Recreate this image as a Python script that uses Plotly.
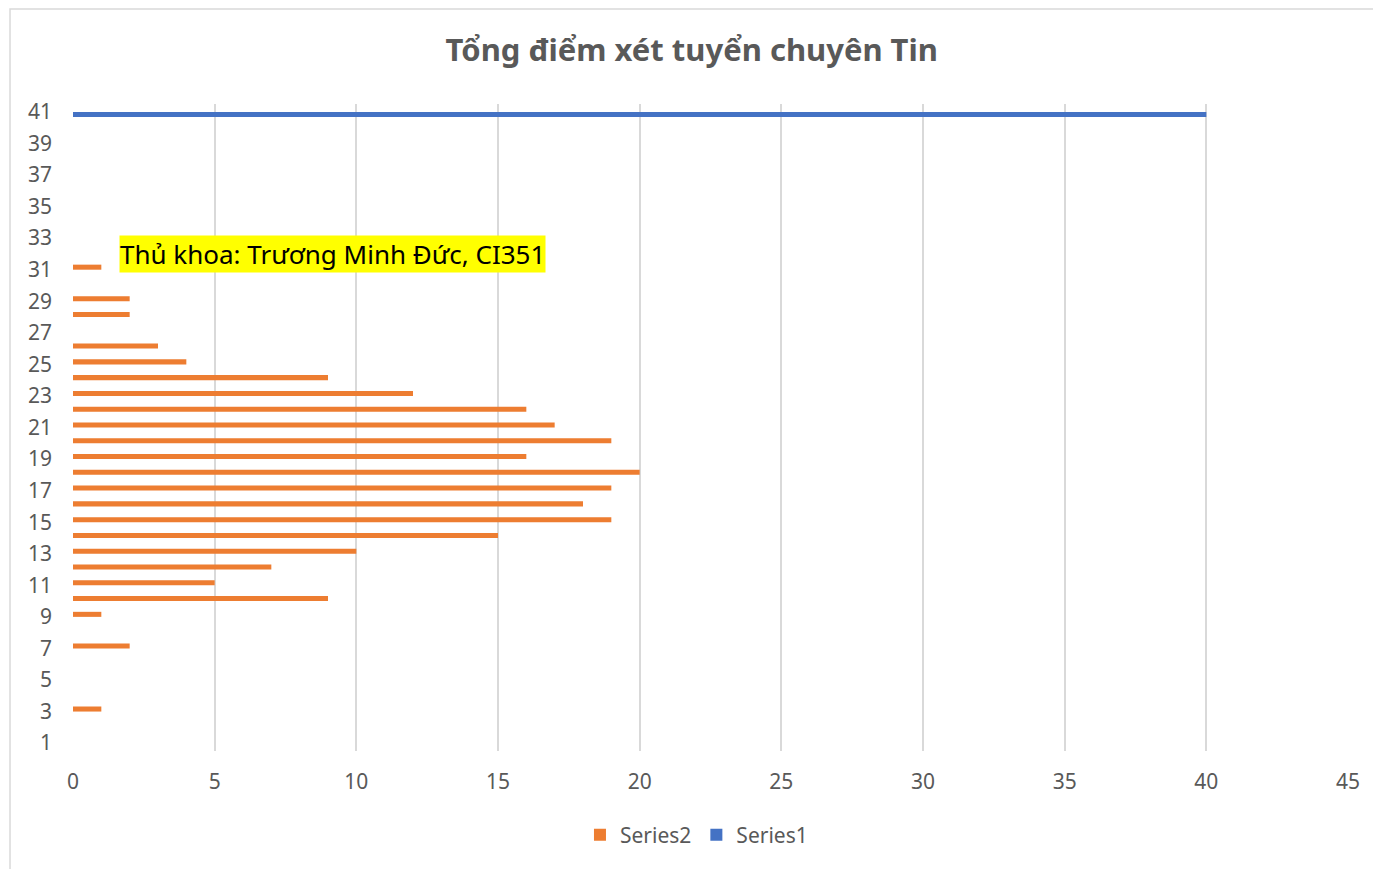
import plotly.graph_objects as go

# Categories (điểm) 1..41
categories = list(range(1, 42))

# Series2: số thí sinh theo tổng điểm
series2 = [0, 0, 1, 0, 0, 0, 2, 0, 1, 9,
           5, 7, 10, 15, 19, 18, 19, 20, 16, 19,
           17, 16, 12, 9, 4, 3, 0, 2, 2, 0,
           1, 0, 0, 0, 0, 0, 0, 0, 0, 0,
           0]

# Series1: chỉ có giá trị ở mốc 41
series1 = [0] * 40 + [40]

x_ticks = [0, 5, 10, 15, 20, 25, 30, 35, 40, 45]

title_text = "Tổng điểm xét tuyển chuyên Tin"
note_text = "Thủ khoa: Trương Minh Đức, CI351"

grey = "#595959"
font_main = "Noto Sans, Open Sans, sans-serif"

fig = go.Figure()
fig.add_trace(go.Bar(y=categories, x=series1, orientation="h", name="Series1",
                     marker=dict(color="#4472C4", line=dict(width=0))))
fig.add_trace(go.Bar(y=categories, x=series2, orientation="h", name="Series2",
                     marker=dict(color="#ED7D31", line=dict(width=0))))

# page body adds an 8px offset, so the figure is sized/margined for that
fig.update_layout(
    width=1373, height=861,
    margin=dict(l=65, r=33, t=96, b=118),
    paper_bgcolor="white", plot_bgcolor="white",
    barmode="group", bargap=0.36, bargroupgap=0,
    font=dict(family=font_main, color=grey, size=21),
    title=dict(text="<b>" + title_text + "</b>", x=0.498, xanchor="center",
               xref="container", y=0.951, yref="container", yanchor="middle",
               font=dict(size=31, color=grey, family=font_main)),
    xaxis=dict(range=[0, 45], tickvals=x_ticks, showgrid=True,
               gridcolor="#d9d9d9", gridwidth=1.5, zeroline=False,
               showline=False, ticks="", tickfont=dict(size=21, color=grey),
               ticklabelstandoff=16),
    yaxis=dict(range=[0.5, 41.5], tick0=1, dtick=2, showgrid=False,
               zeroline=False, showline=False, ticks="",
               tickfont=dict(size=21, color=grey), ticklabelstandoff=20),
    legend=dict(orientation="h", x=0.489, xanchor="center", y=-0.13,
                yanchor="middle", traceorder="reversed",
                font=dict(size=21, color=grey)),
    showlegend=True,
    shapes=[dict(type="rect", xref="paper", yref="paper",
                 x0=-0.0494, x1=1.022, y0=-0.2, y1=1.147,
                 line=dict(color="#d9d9d9", width=1.5), layer="below")],
    annotations=[dict(text=note_text, x=1.62, y=32, xref="x", yref="y",
                      xanchor="left", yanchor="middle", showarrow=False,
                      bgcolor="#FFFF00", borderpad=0,
                      font=dict(size=26, color="black", family=font_main))],
)

fig.write_html("out.html")
